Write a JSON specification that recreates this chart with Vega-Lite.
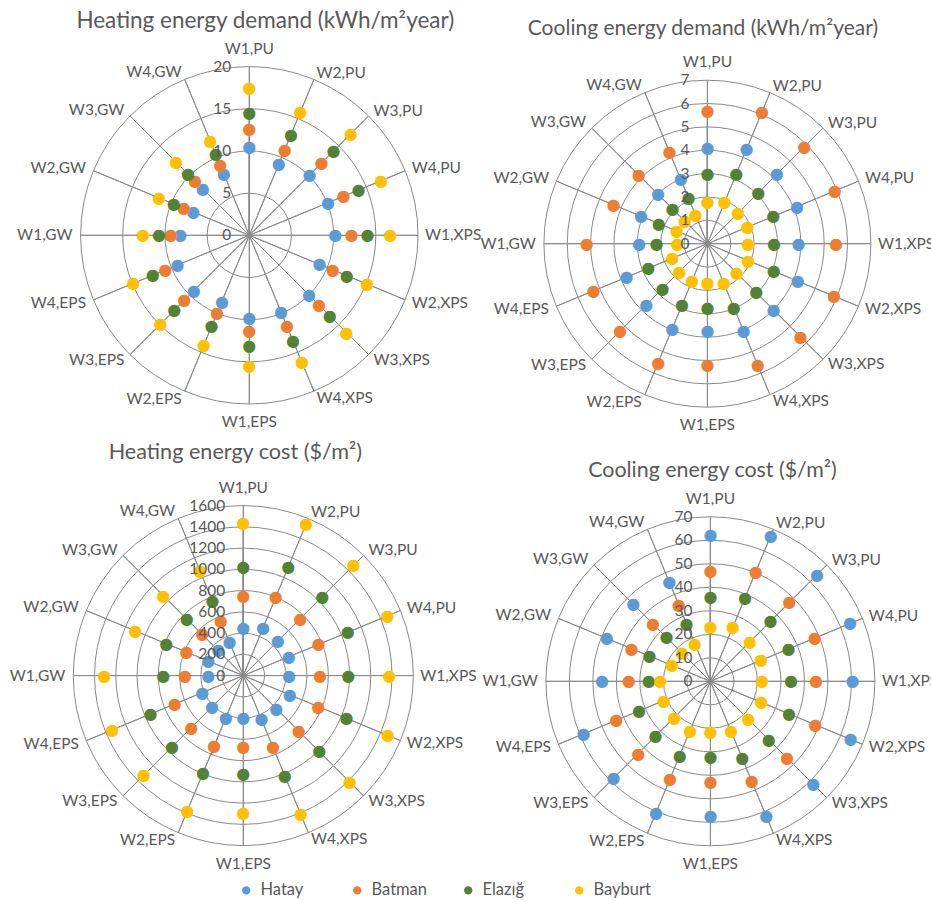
{
  "$schema": "https://vega.github.io/schema/vega-lite/v6.json",
  "padding": 0,
  "autosize": {"type": "pad"},
  "background": "white",
  "config": {
    "view": {"stroke": null},
    "font": "Lato",
    "title": {"font": "Lato", "fontSize": 21.5, "fontWeight": "normal", "color": "#595959", "frame": "group", "anchor": "middle", "offset": 0},
    "text": {"font": "Lato", "fontSize": 15.5, "color": "#595959"}
  },
  "datasets": {
    "cats": [
      {"cat": "W1,PU"}, {"cat": "W2,PU"}, {"cat": "W3,PU"}, {"cat": "W4,PU"},
      {"cat": "W1,XPS"}, {"cat": "W2,XPS"}, {"cat": "W3,XPS"}, {"cat": "W4,XPS"},
      {"cat": "W1,EPS"}, {"cat": "W2,EPS"}, {"cat": "W3,EPS"}, {"cat": "W4,EPS"},
      {"cat": "W1,GW"}, {"cat": "W2,GW"}, {"cat": "W3,GW"}, {"cat": "W4,GW"}
    ],
    "ticks": [
      {"chart": "hd", "level": 0}, {"chart": "hd", "level": 5}, {"chart": "hd", "level": 10}, {"chart": "hd", "level": 15}, {"chart": "hd", "level": 20},
      {"chart": "cd", "level": 0}, {"chart": "cd", "level": 1}, {"chart": "cd", "level": 2}, {"chart": "cd", "level": 3}, {"chart": "cd", "level": 4}, {"chart": "cd", "level": 5}, {"chart": "cd", "level": 6}, {"chart": "cd", "level": 7},
      {"chart": "hc", "level": 0}, {"chart": "hc", "level": 200}, {"chart": "hc", "level": 400}, {"chart": "hc", "level": 600}, {"chart": "hc", "level": 800}, {"chart": "hc", "level": 1000}, {"chart": "hc", "level": 1200}, {"chart": "hc", "level": 1400}, {"chart": "hc", "level": 1600},
      {"chart": "cc", "level": 0}, {"chart": "cc", "level": 10}, {"chart": "cc", "level": 20}, {"chart": "cc", "level": 30}, {"chart": "cc", "level": 40}, {"chart": "cc", "level": 50}, {"chart": "cc", "level": 60}, {"chart": "cc", "level": 70}
    ],
    "hd": [
      {"cat": "W1,PU", "city": "Hatay", "v": 10.5}, {"cat": "W1,PU", "city": "Batman", "v": 12.6}, {"cat": "W1,PU", "city": "Elazığ", "v": 14.5}, {"cat": "W1,PU", "city": "Bayburt", "v": 17.5},
      {"cat": "W2,PU", "city": "Hatay", "v": 9.1}, {"cat": "W2,PU", "city": "Batman", "v": 11.0}, {"cat": "W2,PU", "city": "Elazığ", "v": 12.9}, {"cat": "W2,PU", "city": "Bayburt", "v": 15.8},
      {"cat": "W3,PU", "city": "Hatay", "v": 10.1}, {"cat": "W3,PU", "city": "Batman", "v": 12.1}, {"cat": "W3,PU", "city": "Elazığ", "v": 14.1}, {"cat": "W3,PU", "city": "Bayburt", "v": 17.0},
      {"cat": "W4,PU", "city": "Hatay", "v": 10.1}, {"cat": "W4,PU", "city": "Batman", "v": 12.1}, {"cat": "W4,PU", "city": "Elazığ", "v": 14.0}, {"cat": "W4,PU", "city": "Bayburt", "v": 16.9},
      {"cat": "W1,XPS", "city": "Hatay", "v": 10.2}, {"cat": "W1,XPS", "city": "Batman", "v": 12.1}, {"cat": "W1,XPS", "city": "Elazığ", "v": 14.0}, {"cat": "W1,XPS", "city": "Bayburt", "v": 16.7},
      {"cat": "W2,XPS", "city": "Hatay", "v": 9.0}, {"cat": "W2,XPS", "city": "Batman", "v": 10.7}, {"cat": "W2,XPS", "city": "Elazığ", "v": 12.5}, {"cat": "W2,XPS", "city": "Bayburt", "v": 15.1},
      {"cat": "W3,XPS", "city": "Hatay", "v": 10.0}, {"cat": "W3,XPS", "city": "Batman", "v": 11.7}, {"cat": "W3,XPS", "city": "Elazığ", "v": 13.5}, {"cat": "W3,XPS", "city": "Bayburt", "v": 16.3},
      {"cat": "W4,XPS", "city": "Hatay", "v": 9.8}, {"cat": "W4,XPS", "city": "Batman", "v": 11.7}, {"cat": "W4,XPS", "city": "Elazığ", "v": 13.5}, {"cat": "W4,XPS", "city": "Bayburt", "v": 16.3},
      {"cat": "W1,EPS", "city": "Hatay", "v": 9.8}, {"cat": "W1,EPS", "city": "Batman", "v": 11.3}, {"cat": "W1,EPS", "city": "Elazığ", "v": 13.1}, {"cat": "W1,EPS", "city": "Bayburt", "v": 15.5},
      {"cat": "W2,EPS", "city": "Hatay", "v": 8.5}, {"cat": "W2,EPS", "city": "Batman", "v": 10.0}, {"cat": "W2,EPS", "city": "Elazığ", "v": 11.7}, {"cat": "W2,EPS", "city": "Bayburt", "v": 14.1},
      {"cat": "W3,EPS", "city": "Hatay", "v": 9.3}, {"cat": "W3,EPS", "city": "Batman", "v": 10.9}, {"cat": "W3,EPS", "city": "Elazığ", "v": 12.6}, {"cat": "W3,EPS", "city": "Bayburt", "v": 14.9},
      {"cat": "W4,EPS", "city": "Hatay", "v": 9.2}, {"cat": "W4,EPS", "city": "Batman", "v": 10.8}, {"cat": "W4,EPS", "city": "Elazığ", "v": 12.4}, {"cat": "W4,EPS", "city": "Bayburt", "v": 14.9},
      {"cat": "W1,GW", "city": "Hatay", "v": 8.2}, {"cat": "W1,GW", "city": "Batman", "v": 9.3}, {"cat": "W1,GW", "city": "Elazığ", "v": 10.7}, {"cat": "W1,GW", "city": "Bayburt", "v": 12.6},
      {"cat": "W2,GW", "city": "Hatay", "v": 7.2}, {"cat": "W2,GW", "city": "Batman", "v": 8.4}, {"cat": "W2,GW", "city": "Elazığ", "v": 9.7}, {"cat": "W2,GW", "city": "Bayburt", "v": 11.6},
      {"cat": "W3,GW", "city": "Hatay", "v": 7.8}, {"cat": "W3,GW", "city": "Batman", "v": 9.1}, {"cat": "W3,GW", "city": "Elazığ", "v": 10.3}, {"cat": "W3,GW", "city": "Bayburt", "v": 12.3},
      {"cat": "W4,GW", "city": "Hatay", "v": 7.9}, {"cat": "W4,GW", "city": "Batman", "v": 9.0}, {"cat": "W4,GW", "city": "Elazığ", "v": 10.4}, {"cat": "W4,GW", "city": "Bayburt", "v": 12.1}
    ],
    "cd": [
      {"cat": "W1,PU", "city": "Hatay", "v": 4.1}, {"cat": "W1,PU", "city": "Batman", "v": 5.7}, {"cat": "W1,PU", "city": "Elazığ", "v": 3.0}, {"cat": "W1,PU", "city": "Bayburt", "v": 1.78},
      {"cat": "W2,PU", "city": "Hatay", "v": 4.37}, {"cat": "W2,PU", "city": "Batman", "v": 6.1}, {"cat": "W2,PU", "city": "Elazığ", "v": 3.23}, {"cat": "W2,PU", "city": "Bayburt", "v": 1.92},
      {"cat": "W3,PU", "city": "Hatay", "v": 4.2}, {"cat": "W3,PU", "city": "Batman", "v": 5.87}, {"cat": "W3,PU", "city": "Elazığ", "v": 3.08}, {"cat": "W3,PU", "city": "Bayburt", "v": 1.85},
      {"cat": "W4,PU", "city": "Hatay", "v": 4.15}, {"cat": "W4,PU", "city": "Batman", "v": 5.9}, {"cat": "W4,PU", "city": "Elazığ", "v": 3.05}, {"cat": "W4,PU", "city": "Bayburt", "v": 1.86},
      {"cat": "W1,XPS", "city": "Hatay", "v": 3.9}, {"cat": "W1,XPS", "city": "Batman", "v": 5.5}, {"cat": "W1,XPS", "city": "Elazığ", "v": 2.85}, {"cat": "W1,XPS", "city": "Bayburt", "v": 1.74},
      {"cat": "W2,XPS", "city": "Hatay", "v": 4.19}, {"cat": "W2,XPS", "city": "Batman", "v": 5.87}, {"cat": "W2,XPS", "city": "Elazığ", "v": 3.07}, {"cat": "W2,XPS", "city": "Bayburt", "v": 1.88},
      {"cat": "W3,XPS", "city": "Hatay", "v": 4.0}, {"cat": "W3,XPS", "city": "Batman", "v": 5.63}, {"cat": "W3,XPS", "city": "Elazığ", "v": 2.95}, {"cat": "W3,XPS", "city": "Bayburt", "v": 1.78},
      {"cat": "W4,XPS", "city": "Hatay", "v": 4.04}, {"cat": "W4,XPS", "city": "Batman", "v": 5.64}, {"cat": "W4,XPS", "city": "Elazığ", "v": 2.96}, {"cat": "W4,XPS", "city": "Bayburt", "v": 1.82},
      {"cat": "W1,EPS", "city": "Hatay", "v": 3.74}, {"cat": "W1,EPS", "city": "Batman", "v": 5.19}, {"cat": "W1,EPS", "city": "Elazığ", "v": 2.75}, {"cat": "W1,EPS", "city": "Bayburt", "v": 1.68},
      {"cat": "W2,EPS", "city": "Hatay", "v": 3.94}, {"cat": "W2,EPS", "city": "Batman", "v": 5.51}, {"cat": "W2,EPS", "city": "Elazığ", "v": 2.83}, {"cat": "W2,EPS", "city": "Bayburt", "v": 1.73},
      {"cat": "W3,EPS", "city": "Hatay", "v": 3.7}, {"cat": "W3,EPS", "city": "Batman", "v": 5.29}, {"cat": "W3,EPS", "city": "Elazığ", "v": 2.72}, {"cat": "W3,EPS", "city": "Bayburt", "v": 1.7},
      {"cat": "W4,EPS", "city": "Hatay", "v": 3.75}, {"cat": "W4,EPS", "city": "Batman", "v": 5.28}, {"cat": "W4,EPS", "city": "Elazığ", "v": 2.74}, {"cat": "W4,EPS", "city": "Bayburt", "v": 1.63},
      {"cat": "W1,GW", "city": "Hatay", "v": 2.93}, {"cat": "W1,GW", "city": "Batman", "v": 5.17}, {"cat": "W1,GW", "city": "Elazığ", "v": 2.18}, {"cat": "W1,GW", "city": "Bayburt", "v": 1.29},
      {"cat": "W2,GW", "city": "Hatay", "v": 3.08}, {"cat": "W2,GW", "city": "Batman", "v": 4.35}, {"cat": "W2,GW", "city": "Elazığ", "v": 2.25}, {"cat": "W2,GW", "city": "Bayburt", "v": 1.42},
      {"cat": "W3,GW", "city": "Hatay", "v": 2.99}, {"cat": "W3,GW", "city": "Batman", "v": 4.15}, {"cat": "W3,GW", "city": "Elazığ", "v": 2.12}, {"cat": "W3,GW", "city": "Bayburt", "v": 1.37},
      {"cat": "W4,GW", "city": "Hatay", "v": 2.98}, {"cat": "W4,GW", "city": "Batman", "v": 4.23}, {"cat": "W4,GW", "city": "Elazığ", "v": 2.13}, {"cat": "W4,GW", "city": "Bayburt", "v": 1.33}
    ],
    "hc": [
      {"cat": "W1,PU", "city": "Hatay", "v": 445}, {"cat": "W1,PU", "city": "Batman", "v": 750}, {"cat": "W1,PU", "city": "Elazığ", "v": 1026}, {"cat": "W1,PU", "city": "Bayburt", "v": 1440},
      {"cat": "W2,PU", "city": "Hatay", "v": 484}, {"cat": "W2,PU", "city": "Batman", "v": 799}, {"cat": "W2,PU", "city": "Elazığ", "v": 1107}, {"cat": "W2,PU", "city": "Bayburt", "v": 1544},
      {"cat": "W3,PU", "city": "Hatay", "v": 459}, {"cat": "W3,PU", "city": "Batman", "v": 759}, {"cat": "W3,PU", "city": "Elazığ", "v": 1051}, {"cat": "W3,PU", "city": "Bayburt", "v": 1468},
      {"cat": "W4,PU", "city": "Hatay", "v": 464}, {"cat": "W4,PU", "city": "Batman", "v": 766}, {"cat": "W4,PU", "city": "Elazığ", "v": 1064}, {"cat": "W4,PU", "city": "Bayburt", "v": 1469},
      {"cat": "W1,XPS", "city": "Hatay", "v": 430}, {"cat": "W1,XPS", "city": "Batman", "v": 722}, {"cat": "W1,XPS", "city": "Elazığ", "v": 988}, {"cat": "W1,XPS", "city": "Bayburt", "v": 1374},
      {"cat": "W2,XPS", "city": "Hatay", "v": 472}, {"cat": "W2,XPS", "city": "Batman", "v": 763}, {"cat": "W2,XPS", "city": "Elazığ", "v": 1052}, {"cat": "W2,XPS", "city": "Bayburt", "v": 1471},
      {"cat": "W3,XPS", "city": "Hatay", "v": 439}, {"cat": "W3,XPS", "city": "Batman", "v": 737}, {"cat": "W3,XPS", "city": "Elazığ", "v": 1010}, {"cat": "W3,XPS", "city": "Bayburt", "v": 1418},
      {"cat": "W4,XPS", "city": "Hatay", "v": 446}, {"cat": "W4,XPS", "city": "Batman", "v": 731}, {"cat": "W4,XPS", "city": "Elazığ", "v": 1020}, {"cat": "W4,XPS", "city": "Bayburt", "v": 1415},
      {"cat": "W1,EPS", "city": "Hatay", "v": 402}, {"cat": "W1,EPS", "city": "Batman", "v": 674}, {"cat": "W1,EPS", "city": "Elazığ", "v": 925}, {"cat": "W1,EPS", "city": "Bayburt", "v": 1296},
      {"cat": "W2,EPS", "city": "Hatay", "v": 431}, {"cat": "W2,EPS", "city": "Batman", "v": 722}, {"cat": "W2,EPS", "city": "Elazığ", "v": 993}, {"cat": "W2,EPS", "city": "Bayburt", "v": 1378},
      {"cat": "W3,EPS", "city": "Hatay", "v": 417}, {"cat": "W3,EPS", "city": "Batman", "v": 693}, {"cat": "W3,EPS", "city": "Elazığ", "v": 950}, {"cat": "W3,EPS", "city": "Bayburt", "v": 1324},
      {"cat": "W4,EPS", "city": "Hatay", "v": 419}, {"cat": "W4,EPS", "city": "Batman", "v": 699}, {"cat": "W4,EPS", "city": "Elazığ", "v": 946}, {"cat": "W4,EPS", "city": "Bayburt", "v": 1335},
      {"cat": "W1,GW", "city": "Hatay", "v": 329}, {"cat": "W1,GW", "city": "Batman", "v": 549}, {"cat": "W1,GW", "city": "Elazığ", "v": 753}, {"cat": "W1,GW", "city": "Bayburt", "v": 1308},
      {"cat": "W2,GW", "city": "Hatay", "v": 356}, {"cat": "W2,GW", "city": "Batman", "v": 578}, {"cat": "W2,GW", "city": "Elazığ", "v": 786}, {"cat": "W2,GW", "city": "Bayburt", "v": 1102},
      {"cat": "W3,GW", "city": "Hatay", "v": 335}, {"cat": "W3,GW", "city": "Batman", "v": 548}, {"cat": "W3,GW", "city": "Elazığ", "v": 752}, {"cat": "W3,GW", "city": "Bayburt", "v": 1065},
      {"cat": "W4,GW", "city": "Hatay", "v": 338}, {"cat": "W4,GW", "city": "Batman", "v": 552}, {"cat": "W4,GW", "city": "Elazığ", "v": 760}, {"cat": "W4,GW", "city": "Bayburt", "v": 1068}
    ],
    "cc": [
      {"cat": "W1,PU", "city": "Hatay", "v": 62.2}, {"cat": "W1,PU", "city": "Batman", "v": 47.0}, {"cat": "W1,PU", "city": "Elazığ", "v": 35.7}, {"cat": "W1,PU", "city": "Bayburt", "v": 23.0},
      {"cat": "W2,PU", "city": "Hatay", "v": 67.0}, {"cat": "W2,PU", "city": "Batman", "v": 50.3}, {"cat": "W2,PU", "city": "Elazığ", "v": 38.4}, {"cat": "W2,PU", "city": "Bayburt", "v": 24.9},
      {"cat": "W3,PU", "city": "Hatay", "v": 64.2}, {"cat": "W3,PU", "city": "Batman", "v": 47.5}, {"cat": "W3,PU", "city": "Elazığ", "v": 36.2}, {"cat": "W3,PU", "city": "Bayburt", "v": 23.7},
      {"cat": "W4,PU", "city": "Hatay", "v": 64.3}, {"cat": "W4,PU", "city": "Batman", "v": 48.0}, {"cat": "W4,PU", "city": "Elazığ", "v": 36.0}, {"cat": "W4,PU", "city": "Bayburt", "v": 23.3},
      {"cat": "W1,XPS", "city": "Hatay", "v": 60.5}, {"cat": "W1,XPS", "city": "Batman", "v": 44.9}, {"cat": "W1,XPS", "city": "Elazığ", "v": 34.3}, {"cat": "W1,XPS", "city": "Bayburt", "v": 22.0},
      {"cat": "W2,XPS", "city": "Hatay", "v": 64.5}, {"cat": "W2,XPS", "city": "Batman", "v": 48.3}, {"cat": "W2,XPS", "city": "Elazığ", "v": 36.2}, {"cat": "W2,XPS", "city": "Bayburt", "v": 23.4},
      {"cat": "W3,XPS", "city": "Hatay", "v": 61.9}, {"cat": "W3,XPS", "city": "Batman", "v": 46.1}, {"cat": "W3,XPS", "city": "Elazığ", "v": 35.1}, {"cat": "W3,XPS", "city": "Bayburt", "v": 22.7},
      {"cat": "W4,XPS", "city": "Hatay", "v": 62.1}, {"cat": "W4,XPS", "city": "Batman", "v": 46.1}, {"cat": "W4,XPS", "city": "Elazığ", "v": 35.3}, {"cat": "W4,XPS", "city": "Bayburt", "v": 22.8},
      {"cat": "W1,EPS", "city": "Hatay", "v": 57.4}, {"cat": "W1,EPS", "city": "Batman", "v": 42.9}, {"cat": "W1,EPS", "city": "Elazığ", "v": 32.3}, {"cat": "W1,EPS", "city": "Bayburt", "v": 21.4},
      {"cat": "W2,EPS", "city": "Hatay", "v": 60.6}, {"cat": "W2,EPS", "city": "Batman", "v": 45.0}, {"cat": "W2,EPS", "city": "Elazığ", "v": 34.2}, {"cat": "W2,EPS", "city": "Bayburt", "v": 22.8},
      {"cat": "W3,EPS", "city": "Hatay", "v": 58.3}, {"cat": "W3,EPS", "city": "Batman", "v": 43.5}, {"cat": "W3,EPS", "city": "Elazığ", "v": 33.1}, {"cat": "W3,EPS", "city": "Bayburt", "v": 21.8},
      {"cat": "W4,EPS", "city": "Hatay", "v": 58.5}, {"cat": "W4,EPS", "city": "Batman", "v": 43.4}, {"cat": "W4,EPS", "city": "Elazığ", "v": 32.9}, {"cat": "W4,EPS", "city": "Bayburt", "v": 21.5},
      {"cat": "W1,GW", "city": "Hatay", "v": 46.1}, {"cat": "W1,GW", "city": "Batman", "v": 34.7}, {"cat": "W1,GW", "city": "Elazığ", "v": 26.2}, {"cat": "W1,GW", "city": "Bayburt", "v": 21.3},
      {"cat": "W2,GW", "city": "Hatay", "v": 47.8}, {"cat": "W2,GW", "city": "Batman", "v": 36.3}, {"cat": "W2,GW", "city": "Elazığ", "v": 28.0}, {"cat": "W2,GW", "city": "Bayburt", "v": 17.7},
      {"cat": "W3,GW", "city": "Hatay", "v": 46.4}, {"cat": "W3,GW", "city": "Batman", "v": 34.5}, {"cat": "W3,GW", "city": "Elazığ", "v": 26.4}, {"cat": "W3,GW", "city": "Bayburt", "v": 17.0},
      {"cat": "W4,GW", "city": "Hatay", "v": 45.9}, {"cat": "W4,GW", "city": "Batman", "v": 35.1}, {"cat": "W4,GW", "city": "Elazığ", "v": 26.6}, {"cat": "W4,GW", "city": "Bayburt", "v": 17.3}
    ]
  },
  "columns": 2,
  "spacing": 0,
  "bounds": "flush",
  "align": "all",
  "resolve": {"scale": {"theta": "independent", "radius": "independent"}},
  "concat": [
    {
      "width": 498.6, "height": 470.6,
      "title": {"text": "Heating energy demand (kWh/m²year)", "fontSize": 22.5, "dx": 16, "dy": 36},
      "resolve": {"scale": {"theta": "independent"}},
      "layer": [
        {"data": {"name": "cats"}, "mark": {"type": "arc", "fillOpacity": 0, "stroke": "#8a8a8a", "strokeWidth": 1},
         "encoding": {"theta": {"field": "cat", "type": "nominal", "scale": {"type": "band", "domain": ["W1,PU","W2,PU","W3,PU","W4,PU","W1,XPS","W2,XPS","W3,XPS","W4,XPS","W1,EPS","W2,EPS","W3,EPS","W4,EPS","W1,GW","W2,GW","W3,GW","W4,GW"], "range": [0, 6.283185307], "paddingInner": 0, "paddingOuter": 0}},
                      "radius": {"datum": 20, "type": "quantitative", "stack": null, "scale": {"type": "linear", "domain": [0, 20], "range": [0, 168.7], "zero": true, "nice": false}}}},
        {"data": {"name": "ticks"}, "transform": [{"filter": "datum.chart === 'hd' && datum.level > 0 && datum.level < 20"}],
         "mark": {"type": "arc", "fillOpacity": 0, "stroke": "#8a8a8a", "strokeWidth": 1, "theta": 0, "theta2": 6.283185307, "radius2": 0},
         "encoding": {"radius": {"field": "level", "type": "quantitative", "stack": null}}},
        {"data": {"name": "hd"}, "mark": {"type": "text", "text": "●", "font": "DejaVu Sans", "fontSize": 16, "align": "center", "baseline": "middle"},
         "encoding": {"theta": {"field": "cat", "type": "nominal", "scale": {"type": "point", "domain": ["W1,PU","W2,PU","W3,PU","W4,PU","W1,XPS","W2,XPS","W3,XPS","W4,XPS","W1,EPS","W2,EPS","W3,EPS","W4,EPS","W1,GW","W2,GW","W3,GW","W4,GW"], "range": [0, 5.890486225], "padding": 0}},
                      "radius": {"field": "v", "type": "quantitative", "stack": null},
                      "color": {"field": "city", "type": "nominal", "scale": {"domain": ["Hatay", "Batman", "Elazığ", "Bayburt"], "range": ["#5b9bd5", "#ed7d31", "#548235", "#ffc000"]},
                                "legend": {"title": null, "orient": "none", "direction": "horizontal", "legendX": 238, "legendY": 882, "symbolType": "circle", "symbolSize": 70, "symbolStrokeWidth": 0, "labelFont": "Lato", "labelFontSize": 16.5, "labelColor": "#595959", "columnPadding": 31, "gridAlign": "all", "labelOffset": 6}}}},
        {"data": {"name": "ticks"}, "transform": [{"filter": "datum.chart === 'hd'"}],
         "mark": {"type": "text", "align": "right", "baseline": "middle", "dx": -18},
         "encoding": {"radius": {"field": "level", "type": "quantitative", "stack": null}, "text": {"field": "level", "type": "quantitative", "format": "d"}}},
        {"data": {"name": "cats"}, "transform": [{"filter": {"field": "cat", "oneOf": ["W1,PU", "W1,EPS"]}}],
         "mark": {"type": "text", "align": "center", "baseline": "middle", "radiusOffset": 18},
         "encoding": {"theta": {"field": "cat", "type": "nominal", "scale": {"type": "point", "domain": ["W1,PU","W2,PU","W3,PU","W4,PU","W1,XPS","W2,XPS","W3,XPS","W4,XPS","W1,EPS","W2,EPS","W3,EPS","W4,EPS","W1,GW","W2,GW","W3,GW","W4,GW"], "range": [0, 5.890486225], "padding": 0}},
                      "radius": {"datum": 20, "type": "quantitative", "stack": null}, "text": {"field": "cat"}}},
        {"data": {"name": "cats"}, "transform": [{"filter": {"field": "cat", "oneOf": ["W2,PU","W3,PU","W4,PU","W1,XPS","W2,XPS","W3,XPS","W4,XPS"]}}],
         "mark": {"type": "text", "align": "left", "baseline": "middle", "radiusOffset": 7},
         "encoding": {"theta": {"field": "cat", "type": "nominal", "scale": {"type": "point", "domain": ["W1,PU","W2,PU","W3,PU","W4,PU","W1,XPS","W2,XPS","W3,XPS","W4,XPS","W1,EPS","W2,EPS","W3,EPS","W4,EPS","W1,GW","W2,GW","W3,GW","W4,GW"], "range": [0, 5.890486225], "padding": 0}},
                      "radius": {"datum": 20, "type": "quantitative", "stack": null}, "text": {"field": "cat"}}},
        {"data": {"name": "cats"}, "transform": [{"filter": {"field": "cat", "oneOf": ["W2,EPS","W3,EPS","W4,EPS","W1,GW","W2,GW","W3,GW","W4,GW"]}}],
         "mark": {"type": "text", "align": "right", "baseline": "middle", "radiusOffset": 8},
         "encoding": {"theta": {"field": "cat", "type": "nominal", "scale": {"type": "point", "domain": ["W1,PU","W2,PU","W3,PU","W4,PU","W1,XPS","W2,XPS","W3,XPS","W4,XPS","W1,EPS","W2,EPS","W3,EPS","W4,EPS","W1,GW","W2,GW","W3,GW","W4,GW"], "range": [0, 5.890486225], "padding": 0}},
                      "radius": {"datum": 20, "type": "quantitative", "stack": null}, "text": {"field": "cat"}}}
      ]
    },
    {
      "width": 416.8, "height": 487.4,
      "title": {"text": "Cooling energy demand (kWh/m²year)", "fontSize": 21, "dx": -4.5, "dy": 43},
      "resolve": {"scale": {"theta": "independent"}},
      "layer": [
        {"data": {"name": "cats"}, "mark": {"type": "arc", "fillOpacity": 0, "stroke": "#8a8a8a", "strokeWidth": 1},
         "encoding": {"theta": {"field": "cat", "type": "nominal", "scale": {"type": "band", "domain": ["W1,PU","W2,PU","W3,PU","W4,PU","W1,XPS","W2,XPS","W3,XPS","W4,XPS","W1,EPS","W2,EPS","W3,EPS","W4,EPS","W1,GW","W2,GW","W3,GW","W4,GW"], "range": [0, 6.283185307], "paddingInner": 0, "paddingOuter": 0}},
                      "radius": {"datum": 7, "type": "quantitative", "stack": null, "scale": {"type": "linear", "domain": [0, 7], "range": [0, 163.5], "zero": true, "nice": false}}}},
        {"data": {"name": "ticks"}, "transform": [{"filter": "datum.chart === 'cd' && datum.level > 0 && datum.level < 7"}],
         "mark": {"type": "arc", "fillOpacity": 0, "stroke": "#8a8a8a", "strokeWidth": 1, "theta": 0, "theta2": 6.283185307, "radius2": 0},
         "encoding": {"radius": {"field": "level", "type": "quantitative", "stack": null}}},
        {"data": {"name": "cd"}, "mark": {"type": "text", "text": "●", "font": "DejaVu Sans", "fontSize": 16, "align": "center", "baseline": "middle"},
         "encoding": {"theta": {"field": "cat", "type": "nominal", "scale": {"type": "point", "domain": ["W1,PU","W2,PU","W3,PU","W4,PU","W1,XPS","W2,XPS","W3,XPS","W4,XPS","W1,EPS","W2,EPS","W3,EPS","W4,EPS","W1,GW","W2,GW","W3,GW","W4,GW"], "range": [0, 5.890486225], "padding": 0}},
                      "radius": {"field": "v", "type": "quantitative", "stack": null},
                      "color": {"field": "city", "type": "nominal", "scale": {"domain": ["Hatay", "Batman", "Elazığ", "Bayburt"], "range": ["#5b9bd5", "#ed7d31", "#548235", "#ffc000"]},
                                "legend": {"title": null, "orient": "none", "direction": "horizontal", "legendX": 238, "legendY": 882, "symbolType": "circle", "symbolSize": 70, "symbolStrokeWidth": 0, "labelFont": "Lato", "labelFontSize": 16.5, "labelColor": "#595959", "columnPadding": 31, "gridAlign": "all", "labelOffset": 6}}}},
        {"data": {"name": "ticks"}, "transform": [{"filter": "datum.chart === 'cd'"}],
         "mark": {"type": "text", "align": "right", "baseline": "middle", "dx": -18},
         "encoding": {"radius": {"field": "level", "type": "quantitative", "stack": null}, "text": {"field": "level", "type": "quantitative", "format": "d"}}},
        {"data": {"name": "cats"}, "transform": [{"filter": {"field": "cat", "oneOf": ["W1,PU", "W1,EPS"]}}],
         "mark": {"type": "text", "align": "center", "baseline": "middle", "radiusOffset": 18},
         "encoding": {"theta": {"field": "cat", "type": "nominal", "scale": {"type": "point", "domain": ["W1,PU","W2,PU","W3,PU","W4,PU","W1,XPS","W2,XPS","W3,XPS","W4,XPS","W1,EPS","W2,EPS","W3,EPS","W4,EPS","W1,GW","W2,GW","W3,GW","W4,GW"], "range": [0, 5.890486225], "padding": 0}},
                      "radius": {"datum": 7, "type": "quantitative", "stack": null}, "text": {"field": "cat"}}},
        {"data": {"name": "cats"}, "transform": [{"filter": {"field": "cat", "oneOf": ["W2,PU","W3,PU","W4,PU","W1,XPS","W2,XPS","W3,XPS","W4,XPS"]}}],
         "mark": {"type": "text", "align": "left", "baseline": "middle", "radiusOffset": 7},
         "encoding": {"theta": {"field": "cat", "type": "nominal", "scale": {"type": "point", "domain": ["W1,PU","W2,PU","W3,PU","W4,PU","W1,XPS","W2,XPS","W3,XPS","W4,XPS","W1,EPS","W2,EPS","W3,EPS","W4,EPS","W1,GW","W2,GW","W3,GW","W4,GW"], "range": [0, 5.890486225], "padding": 0}},
                      "radius": {"datum": 7, "type": "quantitative", "stack": null}, "text": {"field": "cat"}}},
        {"data": {"name": "cats"}, "transform": [{"filter": {"field": "cat", "oneOf": ["W2,EPS","W3,EPS","W4,EPS","W1,GW","W2,GW","W3,GW","W4,GW"]}}],
         "mark": {"type": "text", "align": "right", "baseline": "middle", "radiusOffset": 8},
         "encoding": {"theta": {"field": "cat", "type": "nominal", "scale": {"type": "point", "domain": ["W1,PU","W2,PU","W3,PU","W4,PU","W1,XPS","W2,XPS","W3,XPS","W4,XPS","W1,EPS","W2,EPS","W3,EPS","W4,EPS","W1,GW","W2,GW","W3,GW","W4,GW"], "range": [0, 5.890486225], "padding": 0}},
                      "radius": {"datum": 7, "type": "quantitative", "stack": null}, "text": {"field": "cat"}}}
      ]
    },
    {
      "width": 486.6, "height": 375.2,
      "title": {"text": "Heating energy cost ($/m²)", "fontSize": 21.6, "dx": -8, "dy": -13},
      "resolve": {"scale": {"theta": "independent"}},
      "layer": [
        {"data": {"name": "cats"}, "mark": {"type": "arc", "fillOpacity": 0, "stroke": "#8a8a8a", "strokeWidth": 1},
         "encoding": {"theta": {"field": "cat", "type": "nominal", "scale": {"type": "band", "domain": ["W1,PU","W2,PU","W3,PU","W4,PU","W1,XPS","W2,XPS","W3,XPS","W4,XPS","W1,EPS","W2,EPS","W3,EPS","W4,EPS","W1,GW","W2,GW","W3,GW","W4,GW"], "range": [0, 6.283185307], "paddingInner": 0, "paddingOuter": 0}},
                      "radius": {"datum": 1600, "type": "quantitative", "stack": null, "scale": {"type": "linear", "domain": [0, 1600], "range": [0, 170], "zero": true, "nice": false}}}},
        {"data": {"name": "ticks"}, "transform": [{"filter": "datum.chart === 'hc' && datum.level > 0 && datum.level < 1600"}],
         "mark": {"type": "arc", "fillOpacity": 0, "stroke": "#8a8a8a", "strokeWidth": 1, "theta": 0, "theta2": 6.283185307, "radius2": 0},
         "encoding": {"radius": {"field": "level", "type": "quantitative", "stack": null}}},
        {"data": {"name": "hc"}, "mark": {"type": "text", "text": "●", "font": "DejaVu Sans", "fontSize": 16, "align": "center", "baseline": "middle"},
         "encoding": {"theta": {"field": "cat", "type": "nominal", "scale": {"type": "point", "domain": ["W1,PU","W2,PU","W3,PU","W4,PU","W1,XPS","W2,XPS","W3,XPS","W4,XPS","W1,EPS","W2,EPS","W3,EPS","W4,EPS","W1,GW","W2,GW","W3,GW","W4,GW"], "range": [0, 5.890486225], "padding": 0}},
                      "radius": {"field": "v", "type": "quantitative", "stack": null},
                      "color": {"field": "city", "type": "nominal", "scale": {"domain": ["Hatay", "Batman", "Elazığ", "Bayburt"], "range": ["#5b9bd5", "#ed7d31", "#548235", "#ffc000"]},
                                "legend": {"title": null, "orient": "none", "direction": "horizontal", "legendX": 238, "legendY": 882, "symbolType": "circle", "symbolSize": 70, "symbolStrokeWidth": 0, "labelFont": "Lato", "labelFontSize": 16.5, "labelColor": "#595959", "columnPadding": 31, "gridAlign": "all", "labelOffset": 6}}}},
        {"data": {"name": "ticks"}, "transform": [{"filter": "datum.chart === 'hc'"}],
         "mark": {"type": "text", "align": "right", "baseline": "middle", "dx": -18},
         "encoding": {"radius": {"field": "level", "type": "quantitative", "stack": null}, "text": {"field": "level", "type": "quantitative", "format": "d"}}},
        {"data": {"name": "cats"}, "transform": [{"filter": {"field": "cat", "oneOf": ["W1,PU", "W1,EPS"]}}],
         "mark": {"type": "text", "align": "center", "baseline": "middle", "radiusOffset": 18},
         "encoding": {"theta": {"field": "cat", "type": "nominal", "scale": {"type": "point", "domain": ["W1,PU","W2,PU","W3,PU","W4,PU","W1,XPS","W2,XPS","W3,XPS","W4,XPS","W1,EPS","W2,EPS","W3,EPS","W4,EPS","W1,GW","W2,GW","W3,GW","W4,GW"], "range": [0, 5.890486225], "padding": 0}},
                      "radius": {"datum": 1600, "type": "quantitative", "stack": null}, "text": {"field": "cat"}}},
        {"data": {"name": "cats"}, "transform": [{"filter": {"field": "cat", "oneOf": ["W2,PU","W3,PU","W4,PU","W1,XPS","W2,XPS","W3,XPS","W4,XPS"]}}],
         "mark": {"type": "text", "align": "left", "baseline": "middle", "radiusOffset": 7},
         "encoding": {"theta": {"field": "cat", "type": "nominal", "scale": {"type": "point", "domain": ["W1,PU","W2,PU","W3,PU","W4,PU","W1,XPS","W2,XPS","W3,XPS","W4,XPS","W1,EPS","W2,EPS","W3,EPS","W4,EPS","W1,GW","W2,GW","W3,GW","W4,GW"], "range": [0, 5.890486225], "padding": 0}},
                      "radius": {"datum": 1600, "type": "quantitative", "stack": null}, "text": {"field": "cat"}}},
        {"data": {"name": "cats"}, "transform": [{"filter": {"field": "cat", "oneOf": ["W2,EPS","W3,EPS","W4,EPS","W1,GW","W2,GW","W3,GW","W4,GW"]}}],
         "mark": {"type": "text", "align": "right", "baseline": "middle", "radiusOffset": 8},
         "encoding": {"theta": {"field": "cat", "type": "nominal", "scale": {"type": "point", "domain": ["W1,PU","W2,PU","W3,PU","W4,PU","W1,XPS","W2,XPS","W3,XPS","W4,XPS","W1,EPS","W2,EPS","W3,EPS","W4,EPS","W1,GW","W2,GW","W3,GW","W4,GW"], "range": [0, 5.890486225], "padding": 0}},
                      "radius": {"datum": 1600, "type": "quantitative", "stack": null}, "text": {"field": "cat"}}}
      ]
    },
    {
      "width": 422.8, "height": 386.6,
      "title": {"text": "Cooling energy cost ($/m²)", "fontSize": 21.4, "dx": 2, "dy": -3},
      "resolve": {"scale": {"theta": "independent"}},
      "layer": [
        {"data": {"name": "cats"}, "mark": {"type": "arc", "fillOpacity": 0, "stroke": "#8a8a8a", "strokeWidth": 1},
         "encoding": {"theta": {"field": "cat", "type": "nominal", "scale": {"type": "band", "domain": ["W1,PU","W2,PU","W3,PU","W4,PU","W1,XPS","W2,XPS","W3,XPS","W4,XPS","W1,EPS","W2,EPS","W3,EPS","W4,EPS","W1,GW","W2,GW","W3,GW","W4,GW"], "range": [0, 6.283185307], "paddingInner": 0, "paddingOuter": 0}},
                      "radius": {"datum": 70, "type": "quantitative", "stack": null, "scale": {"type": "linear", "domain": [0, 70], "range": [0, 164.5], "zero": true, "nice": false}}}},
        {"data": {"name": "ticks"}, "transform": [{"filter": "datum.chart === 'cc' && datum.level > 0 && datum.level < 70"}],
         "mark": {"type": "arc", "fillOpacity": 0, "stroke": "#8a8a8a", "strokeWidth": 1, "theta": 0, "theta2": 6.283185307, "radius2": 0},
         "encoding": {"radius": {"field": "level", "type": "quantitative", "stack": null}}},
        {"data": {"name": "cc"}, "mark": {"type": "text", "text": "●", "font": "DejaVu Sans", "fontSize": 16, "align": "center", "baseline": "middle"},
         "encoding": {"theta": {"field": "cat", "type": "nominal", "scale": {"type": "point", "domain": ["W1,PU","W2,PU","W3,PU","W4,PU","W1,XPS","W2,XPS","W3,XPS","W4,XPS","W1,EPS","W2,EPS","W3,EPS","W4,EPS","W1,GW","W2,GW","W3,GW","W4,GW"], "range": [0, 5.890486225], "padding": 0}},
                      "radius": {"field": "v", "type": "quantitative", "stack": null},
                      "color": {"field": "city", "type": "nominal", "scale": {"domain": ["Hatay", "Batman", "Elazığ", "Bayburt"], "range": ["#5b9bd5", "#ed7d31", "#548235", "#ffc000"]},
                                "legend": {"title": null, "orient": "none", "direction": "horizontal", "legendX": 238, "legendY": 882, "symbolType": "circle", "symbolSize": 70, "symbolStrokeWidth": 0, "labelFont": "Lato", "labelFontSize": 16.5, "labelColor": "#595959", "columnPadding": 31, "gridAlign": "all", "labelOffset": 6}}}},
        {"data": {"name": "ticks"}, "transform": [{"filter": "datum.chart === 'cc'"}],
         "mark": {"type": "text", "align": "right", "baseline": "middle", "dx": -18},
         "encoding": {"radius": {"field": "level", "type": "quantitative", "stack": null}, "text": {"field": "level", "type": "quantitative", "format": "d"}}},
        {"data": {"name": "cats"}, "transform": [{"filter": {"field": "cat", "oneOf": ["W1,PU", "W1,EPS"]}}],
         "mark": {"type": "text", "align": "center", "baseline": "middle", "radiusOffset": 18},
         "encoding": {"theta": {"field": "cat", "type": "nominal", "scale": {"type": "point", "domain": ["W1,PU","W2,PU","W3,PU","W4,PU","W1,XPS","W2,XPS","W3,XPS","W4,XPS","W1,EPS","W2,EPS","W3,EPS","W4,EPS","W1,GW","W2,GW","W3,GW","W4,GW"], "range": [0, 5.890486225], "padding": 0}},
                      "radius": {"datum": 70, "type": "quantitative", "stack": null}, "text": {"field": "cat"}}},
        {"data": {"name": "cats"}, "transform": [{"filter": {"field": "cat", "oneOf": ["W2,PU","W3,PU","W4,PU","W1,XPS","W2,XPS","W3,XPS","W4,XPS"]}}],
         "mark": {"type": "text", "align": "left", "baseline": "middle", "radiusOffset": 7},
         "encoding": {"theta": {"field": "cat", "type": "nominal", "scale": {"type": "point", "domain": ["W1,PU","W2,PU","W3,PU","W4,PU","W1,XPS","W2,XPS","W3,XPS","W4,XPS","W1,EPS","W2,EPS","W3,EPS","W4,EPS","W1,GW","W2,GW","W3,GW","W4,GW"], "range": [0, 5.890486225], "padding": 0}},
                      "radius": {"datum": 70, "type": "quantitative", "stack": null}, "text": {"field": "cat"}}},
        {"data": {"name": "cats"}, "transform": [{"filter": {"field": "cat", "oneOf": ["W2,EPS","W3,EPS","W4,EPS","W1,GW","W2,GW","W3,GW","W4,GW"]}}],
         "mark": {"type": "text", "align": "right", "baseline": "middle", "radiusOffset": 8},
         "encoding": {"theta": {"field": "cat", "type": "nominal", "scale": {"type": "point", "domain": ["W1,PU","W2,PU","W3,PU","W4,PU","W1,XPS","W2,XPS","W3,XPS","W4,XPS","W1,EPS","W2,EPS","W3,EPS","W4,EPS","W1,GW","W2,GW","W3,GW","W4,GW"], "range": [0, 5.890486225], "padding": 0}},
                      "radius": {"datum": 70, "type": "quantitative", "stack": null}, "text": {"field": "cat"}}}
      ]
    }
  ]
}
